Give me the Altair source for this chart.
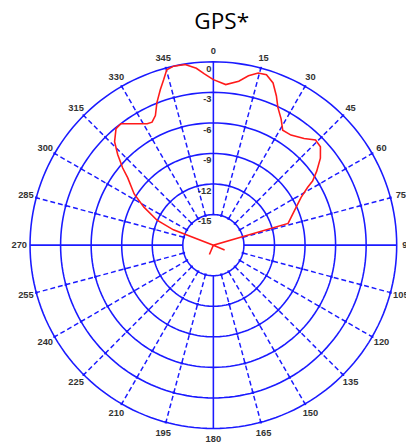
import altair as alt
import numpy as np
import pandas as pd

# ---------------- data ----------------
TITLE = "GPS*"
ring_db = [0, -3, -6, -9, -12, -15]
ring_labels = ["0", "-3", "-6", "-9", "-12", "-15"]
spoke_angles = list(range(0, 360, 15))
spoke_labels = [str(a) for a in spoke_angles]

pattern_angle = [0, 4.4, 8.8, 11.7, 14.6, 17.3, 20.2, 22.9, 25.1, 28.2, 31.1, 35.2,
                 40.4, 44.2, 47.4, 50.9, 54.4, 57.1, 58.5, 61.4, 65.3, 70.1, 73.8,
                 80, 113, 140, 203, 240, 291, 293.9, 298.7, 302.9, 308.2, 310.4,
                 313.4, 316.3, 320.1, 322.7, 326.9, 331.4, 333.5, 335.9, 338.4,
                 341.2, 343.3, 345.1, 347.5, 351.1, 354.5, 357, 360]
pattern_db = [-1.75, -2.19, -1.71, -1.01, -0.54, -0.47, -1.03, -2.10, -3.07, -3.93,
              -4.82, -4.78, -4.26, -3.61, -3.72, -4.46, -5.52, -6.40, -7.16, -8.19,
              -9.05, -9.86, -10.36, -18, -16.8, -18, -17.0, -18, -13.8, -11.95,
              -10.23, -8.74, -7.29, -6.31, -5.08, -3.96, -3.10, -3.02, -3.78, -4.43,
              -4.51, -4.06, -2.94, -1.85, -1.03, -0.19, 0.0, -0.05, -0.55, -1.16,
              -1.75]

# ---------------- layout / style ----------------
FLOOR = -18.0          # dB value at the centre of the plot
PX = 10.39             # pixels per dB
W, H = 406, 400
CX, CY = 209.5, 197.5  # centre inside the view (pixels)
LABEL_R = 198 / PX     # radius (dB units) of the angle labels
xdom = [-CX / PX, (W - CX) / PX]
ydom = [-(H - CY) / PX, CY / PX]
BLUE = "#1a1aff"
RED = "#ff1a1a"
TXT = "#333333"
FONT = "Liberation Sans"

X = lambda f: alt.X(f, type="quantitative", scale=alt.Scale(domain=xdom, nice=False, zero=False), axis=None)
Y = lambda f: alt.Y(f, type="quantitative", scale=alt.Scale(domain=ydom, nice=False, zero=False), axis=None)

# circles
circle_steps = np.arange(0, 361, 2)
circ_df = pd.DataFrame([(d, a) for d in ring_db for a in circle_steps], columns=["db", "a"])
circles = alt.Chart(circ_df).transform_calculate(
    r=f"datum.db - ({FLOOR})"
).transform_calculate(
    x="datum.r * sin(datum.a * PI / 180)", y="datum.r * cos(datum.a * PI / 180)"
).mark_line(color=BLUE, strokeWidth=1.6).encode(
    x=X("x"), y=Y("y"), detail="db:N", order="a:Q"
)

# spokes
spoke_df = pd.DataFrame({"a": spoke_angles, "label": spoke_labels})
r_in = ring_db[-1] - FLOOR
r_out = ring_db[0] - FLOOR
spoke_base = alt.Chart(spoke_df).transform_calculate(
    x1=f"{r_in} * sin(datum.a * PI / 180)", y1=f"{r_in} * cos(datum.a * PI / 180)",
    x2=f"{r_out} * sin(datum.a * PI / 180)", y2=f"{r_out} * cos(datum.a * PI / 180)",
    lx=f"{LABEL_R} * sin(datum.a * PI / 180)", ly=f"{LABEL_R} * cos(datum.a * PI / 180)",
)
solid_spokes = spoke_base.transform_filter("datum.a % 90 == 0").mark_rule(
    color=BLUE, strokeWidth=1.6
).encode(x=X("x1"), y=Y("y1"), x2="x2:Q", y2="y2:Q")
dashed_spokes = spoke_base.transform_filter("datum.a % 90 != 0").mark_rule(
    color=BLUE, strokeWidth=1.5, strokeDash=[5, 3]
).encode(x=X("x1"), y=Y("y1"), x2="x2:Q", y2="y2:Q")

angle_text = spoke_base.mark_text(
    font=FONT, fontSize=9.5, fontWeight="bold", color=TXT, align="center", baseline="middle"
).encode(x=X("lx"), y=Y("ly"), text="label:N")

# small marks where dashed spokes cross rings
dot_df = pd.DataFrame([(d, a) for d in ring_db for a in spoke_angles if a % 90 != 0], columns=["db", "a"])
dots = alt.Chart(dot_df).transform_calculate(
    r=f"datum.db - ({FLOOR})"
).transform_calculate(
    x="datum.r * sin(datum.a * PI / 180)", y="datum.r * cos(datum.a * PI / 180)"
).mark_point(filled=True, shape="square", size=6, color=BLUE, opacity=1).encode(x=X("x"), y=Y("y"))

# ring labels
ring_df = pd.DataFrame({"db": ring_db, "label": ring_labels})
ring_text = alt.Chart(ring_df).transform_calculate(
    x="0", y=f"datum.db - ({FLOOR})"
).mark_text(
    font=FONT, fontSize=9.5, fontWeight="bold", color=TXT, align="right", baseline="middle", dx=-2, dy=7
).encode(x=X("x"), y=Y("y"), text="label:N")

# pattern
pat_df = pd.DataFrame({"i": range(len(pattern_angle)), "a": pattern_angle, "db": pattern_db})
pattern = alt.Chart(pat_df).transform_calculate(
    r=f"max(0, datum.db - ({FLOOR}))"
).transform_calculate(
    x="datum.r * sin(datum.a * PI / 180)", y="datum.r * cos(datum.a * PI / 180)"
).mark_line(color=RED, strokeWidth=1.6).encode(x=X("x"), y=Y("y"), order="i:Q")

chart = alt.layer(
    circles, dashed_spokes, solid_spokes, dots, angle_text, ring_text, pattern
).properties(
    width=W, height=H,
    padding={"left": 0, "top": 40, "right": 0, "bottom": 0},
    autosize=alt.AutoSizeParams(type="none"),
    title=alt.TitleParams(TITLE, font="Open Sans", fontSize=23, fontWeight="normal",
                          color="black", anchor="middle", dx=15, offset=0, dy=-13),
).configure_view(stroke=None)

chart.save("out.html", embed_options={"renderer": "svg", "actions": False})
